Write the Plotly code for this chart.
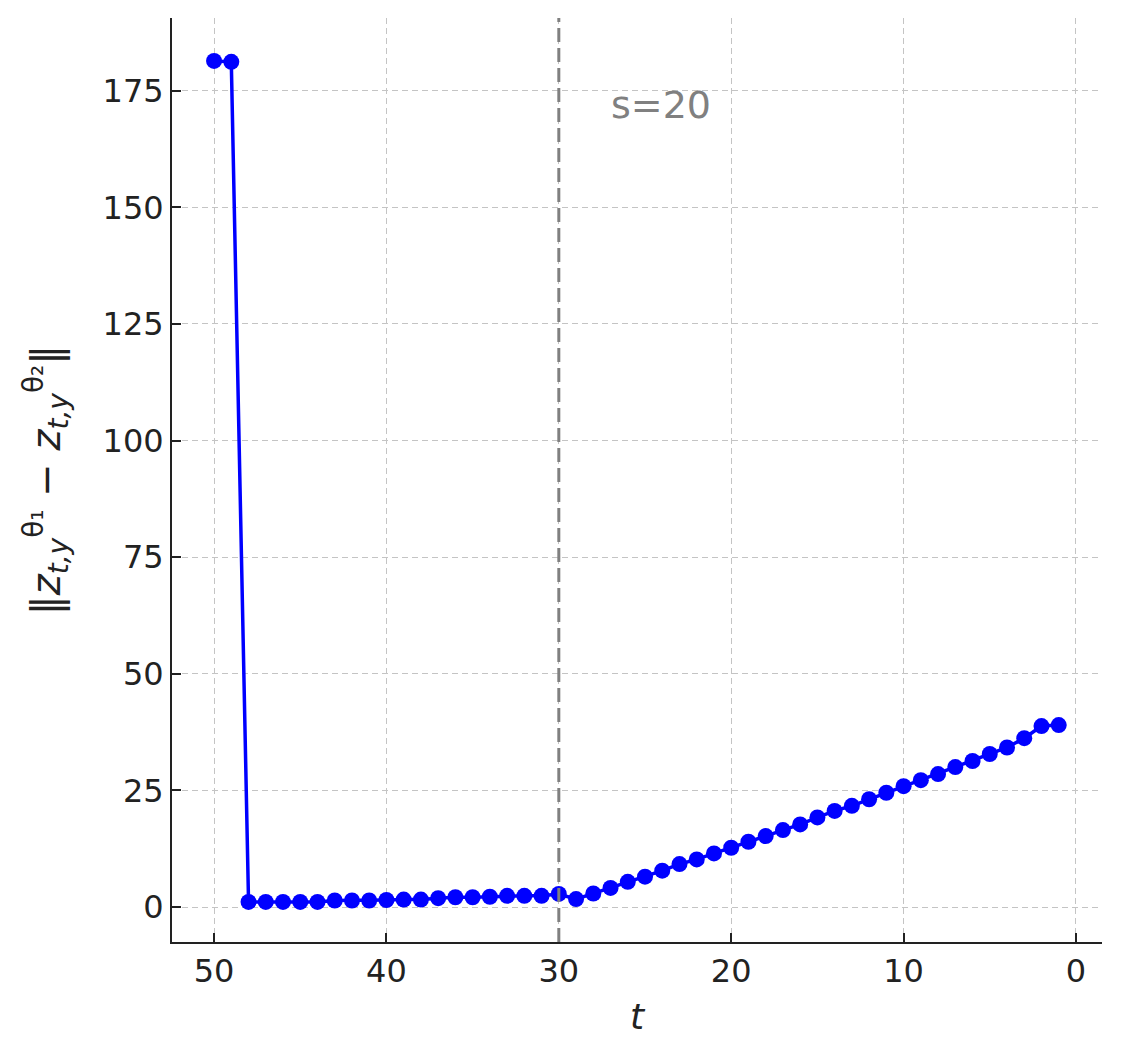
import plotly.graph_objects as go

# =============================================================================
# Data
# =============================================================================
t = list(range(50, 0, -1))
dist = [181.4, 181.2, 1.1, 1.1, 1.1, 1.1, 1.1, 1.4, 1.4, 1.4,
        1.5, 1.6, 1.6, 1.9, 2.1, 2.1, 2.2, 2.4, 2.4, 2.4,
        2.8, 1.7, 2.9, 4.1, 5.4, 6.5, 7.8, 9.2, 10.2, 11.5,
        12.7, 14.0, 15.2, 16.5, 17.7, 19.2, 20.6, 21.7, 23.1, 24.5,
        25.9, 27.2, 28.5, 30.0, 31.3, 32.8, 34.2, 36.2, 38.8, 39.0]
s_line = 30
s_label = "s=20"
xticks = [50, 40, 30, 20, 10, 0]
yticks = [0, 25, 50, 75, 100, 125, 150, 175]

FONT = "DejaVu Sans"
INK = "#222222"

fig = go.Figure()
fig.add_trace(go.Scatter(x=t, y=dist, mode="lines+markers",
                         line=dict(color="#0000ff", width=3.5),
                         marker=dict(color="#0000ff", size=16),
                         showlegend=False))

# vertical marker at s
fig.add_shape(type="line", x0=s_line, x1=s_line, y0=0, y1=1, yref="paper",
              line=dict(color="#808080", width=3, dash="14px,6px"))
fig.add_annotation(x=27.1, y=172, text=s_label, showarrow=False, xanchor="left",
                   font=dict(family=FONT, size=38, color="#808080"))

axis_common = dict(showline=True, linecolor=INK, linewidth=2,
                   ticks="inside", ticklen=9, tickwidth=2, tickcolor=INK,
                   showgrid=True, gridcolor="#c4c4c4", griddash="6px,4px", gridwidth=1.3,
                   zeroline=False, tickfont=dict(family=FONT, size=32, color=INK))

fig.update_xaxes(range=[52.44, -1.51], tickvals=xticks,
                 title=dict(text="<i>t</i>", font=dict(family=FONT, size=36, color=INK),
                            standoff=14),
                 **axis_common)
fig.update_yaxes(range=[-7.5, 190.6], tickvals=yticks,
                 title=dict(text="‖<i>z</i><sub><i>t,y</i></sub><sup>θ₁</sup> − <i>z</i><sub><i>t,y</i></sub><sup>θ₂</sup>‖",
                            font=dict(family=FONT, size=40, color=INK), standoff=30),
                 **axis_common)

# page body adds 8px offset, margins compensate
fig.update_layout(width=1121, height=1055, plot_bgcolor="white", paper_bgcolor="white",
                  margin=dict(l=164, r=27, t=10, b=121))

fig.write_html("out.html")
